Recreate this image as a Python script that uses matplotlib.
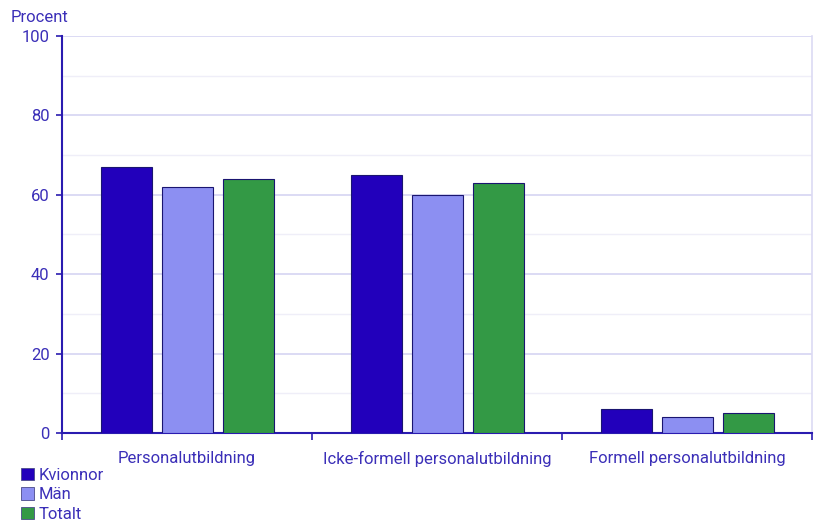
import matplotlib.pyplot as plt
import numpy as np
from matplotlib.patches import Patch

plt.rcParams['font.family'] = ['Roboto', 'DejaVu Sans']

kategorier = ['Personalutbildning', 'Icke-formell personalutbildning', 'Formell personalutbildning']
serier = ['Kvionnor', 'Män', 'Totalt']
kvinnor = [67, 65, 6]
man = [62, 60, 4]
totalt = [64, 63, 5]

farger = ['#2200bb', '#8c8ff2', '#339945']
textfarg = '#3b2fb8'
axelfarg = '#2a1bb0'

fig = plt.figure(figsize=(8.14, 5.24), dpi=100)
ax = fig.add_axes([0.0762, 0.1737, 0.9215, 0.7576])

x = np.arange(len(kategorier))
bredd = 0.204
steg = 0.244
for i, (vals, f) in enumerate(zip([kvinnor, man, totalt], farger)):
    ax.bar(x + (i - 1) * steg, vals, width=bredd, color=f,
           edgecolor='#1a1570', linewidth=0.8, zorder=3)

ax.set_xlim(-0.5, 2.5)
ax.set_ylim(0, 100)
ax.set_yticks(range(0, 101, 20))
ax.set_yticks(range(10, 100, 20), minor=True)
ax.grid(axis='y', which='major', color='#d6d4f2', linewidth=1.2, zorder=0)
ax.grid(axis='y', which='minor', color='#efeef8', linewidth=1.0, zorder=0)

ax.set_xticks(x)
ax.set_xticklabels(kategorier)
ax.tick_params(axis='x', which='major', length=0, pad=13, labelsize=12, labelcolor=textfarg)
ax.set_xticks([-0.5, 0.5, 1.5, 2.5], minor=True)
ax.tick_params(axis='x', which='minor', length=5, width=1.2, color=axelfarg)
ax.tick_params(axis='y', which='major', length=4, width=1.2, color=axelfarg,
               labelsize=12, labelcolor=textfarg, pad=5)
ax.tick_params(axis='y', which='minor', length=0)

ax.spines['top'].set_visible(False)
ax.spines['right'].set_color('#dcdaf3')
ax.spines['right'].set_linewidth(1.2)
for s in ['left', 'bottom']:
    ax.spines[s].set_color(axelfarg)
    ax.spines[s].set_linewidth(1.5)

fig.text(0.013, 0.953, 'Procent', color=textfarg, fontsize=12, va='bottom')

handtag = [Patch(facecolor=f, edgecolor='#4a4a8a', linewidth=0.6) for f in farger]
leg = fig.legend(handtag, serier, loc='lower left', bbox_to_anchor=(0.018, -0.008),
                 frameon=False, fontsize=12, handlelength=0.75, handleheight=0.75,
                 handletextpad=0.3, labelspacing=0.25, borderaxespad=0.0)
for t in leg.get_texts():
    t.set_color(textfarg)

fig.savefig('out.png', dpi=100)
